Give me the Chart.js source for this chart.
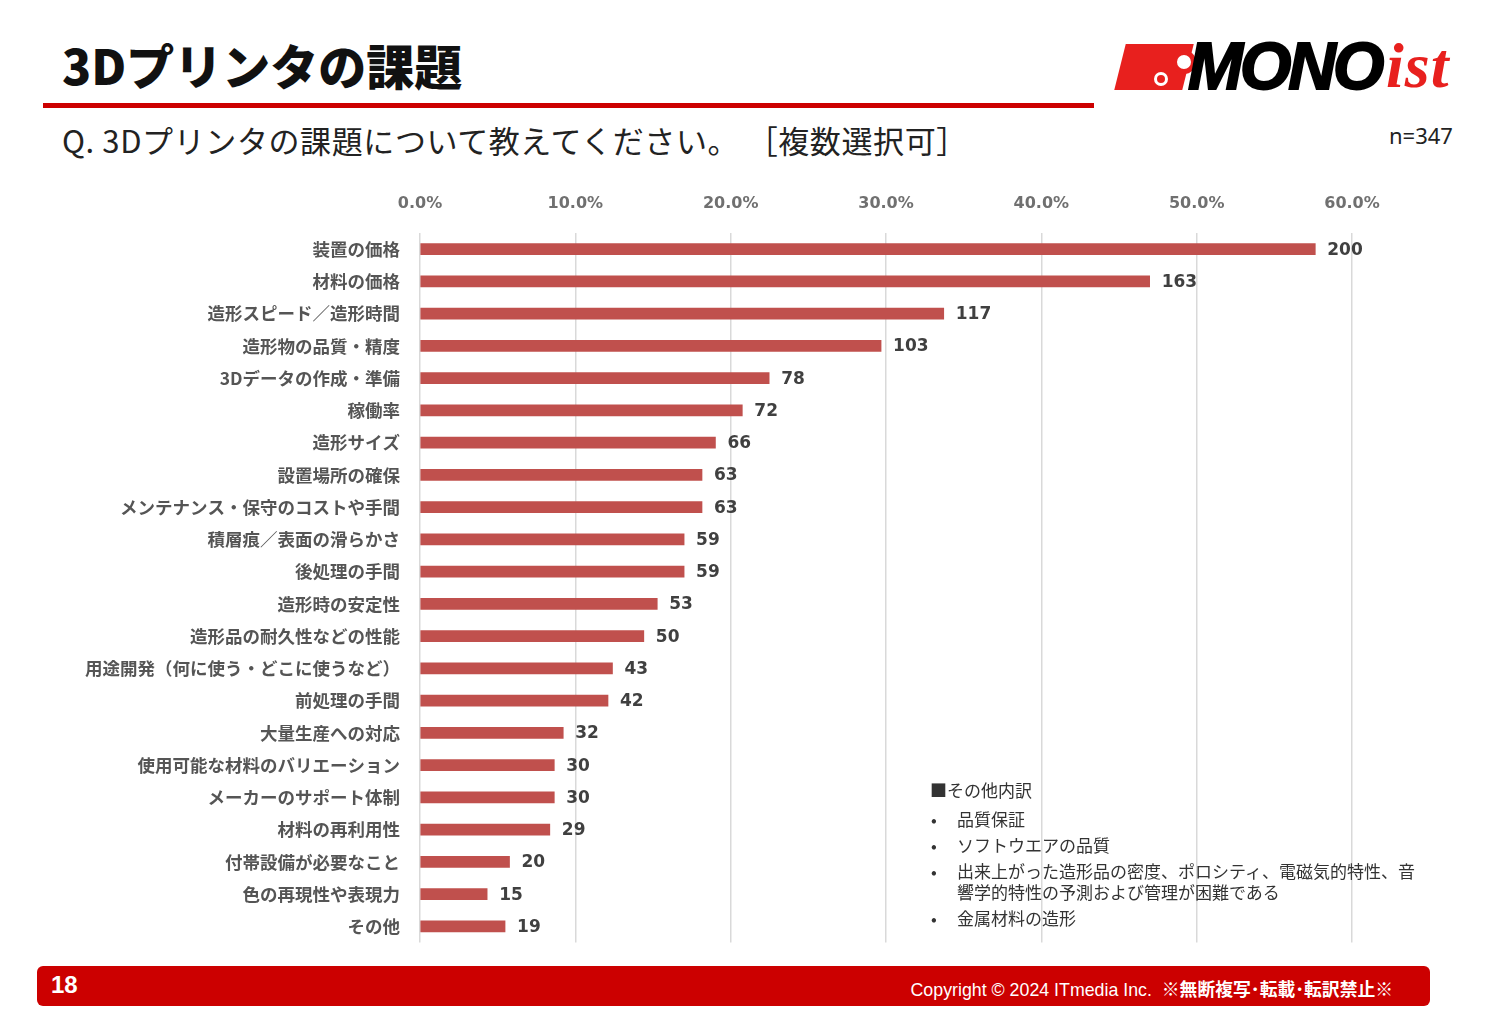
<!DOCTYPE html>
<html lang="ja">
<head>
<meta charset="utf-8">
<script src="https://cdn.jsdelivr.net/npm/chart.js@4/dist/chart.umd.min.js"></script>
<style>
  body { margin: 0; width: 1489px; height: 1020px; background: #fff; position: relative; overflow: hidden;
         font-family: "Noto Sans CJK JP", sans-serif; }
  .title { position: absolute; left: 62px; top: 29px; font-size: 48px; font-weight: 900; color: #111; }
  .rule { position: absolute; left: 43px; top: 103px; width: 1051px; height: 5px; background: #cc0000; }
  .question { position: absolute; left: 62px; top: 117px; font-size: 31px; color: #222; letter-spacing: 0.6px; }
  .n { position: absolute; left: 1389px; top: 120px; font-size: 22px; color: #222; font-family: "Noto Sans", sans-serif; }
  .logo { position: absolute; left: 1112px; top: 40px; width: 370px; height: 56px; }
  .logo .red { position: absolute; left: 8px; top: 4px; width: 68px; height: 46px; background: #e8201e; transform: skewX(-14deg); }
  .logo .gear1 { position: absolute; left: 60px; top: 10px; width: 14px; height: 14px; border: 5px solid #e8201e; border-radius: 50%; background: #fff; }
  .logo .gear2 { position: absolute; left: 42px; top: 32px; width: 8px; height: 8px; border: 3px solid #fff; border-radius: 50%; }
  .logo .mono { position: absolute; left: 76px; top: -12px; font-family: "Liberation Sans", sans-serif; font-weight: 900; font-style: italic; font-size: 66px; color: #000; letter-spacing: -3px; -webkit-text-stroke: 2px #000; }
  .logo .ist { position: absolute; left: 274px; top: -11px; font-family: "Liberation Serif", serif; font-style: italic; font-weight: bold; font-size: 64px; color: #e8201e; letter-spacing: 1px; }
  #wrap { position: absolute; left: 0; top: 180px; width: 1489px; height: 785px; }
  .other { position: absolute; left: 930px; top: 776px; font-size: 17px; color: #333; line-height: 27px; }
  .other ul { list-style: none; margin: 0; padding: 0; }
  .other li { position: relative; padding-left: 27px; width: 470px; line-height: 21px; margin-top: 5px; }
  .other li::before { content: "•"; position: absolute; left: 1px; top: 0; }
  .footer { position: absolute; left: 37px; top: 966px; width: 1393px; height: 40px; background: #cc0000; border-radius: 6px; color: #fff; }
  .footer .page { position: absolute; left: 14px; top: 5px; font-size: 24px; font-weight: bold; font-family: "Liberation Sans", sans-serif; }
  .footer .copy { position: absolute; right: 37px; top: 9px; font-size: 17.8px; font-family: "Liberation Sans", "Noto Sans CJK JP", sans-serif; }
  .footer .copy b { font-family: "Noto Sans CJK JP", sans-serif; }
</style>
</head>
<body>
<div class="title">3Dプリンタの課題</div>
<div class="rule"></div>
<div class="question">Q. 3Dプリンタの課題について教えてください。 ［複数選択可］</div>
<div class="n">n=347</div>
<div class="logo">
  <div class="red"></div><div class="gear1"></div><div class="gear2"></div>
  <div class="mono">MONO</div><div class="ist">ist</div>
</div>
<div id="wrap"><canvas id="chart"></canvas></div>
<div class="other">
  <div>■その他内訳</div>
  <ul>
    <li>品質保証</li>
    <li>ソフトウエアの品質</li>
    <li>出来上がった造形品の密度、ポロシティ、電磁気的特性、音<br>響学的特性の予測および管理が困難である</li>
    <li>金属材料の造形</li>
  </ul>
</div>
<div class="footer">
  <div class="page">18</div>
  <div class="copy">Copyright © 2024 ITmedia Inc.&nbsp; <b>※無断複写･転載･転訳禁止※</b></div>
</div>
<script>
var respondents = 347;
var categories = [
  "装置の価格", "材料の価格", "造形スピード／造形時間", "造形物の品質・精度",
  "3Dデータの作成・準備", "稼働率", "造形サイズ", "設置場所の確保",
  "メンテナンス・保守のコストや手間", "積層痕／表面の滑らかさ", "後処理の手間", "造形時の安定性",
  "造形品の耐久性などの性能", "用途開発（何に使う・どこに使うなど）", "前処理の手間", "大量生産への対応",
  "使用可能な材料のバリエーション", "メーカーのサポート体制", "材料の再利用性", "付帯設備が必要なこと",
  "色の再現性や表現力", "その他"
];
var counts = [200, 163, 117, 103, 78, 72, 66, 63, 63, 59, 59, 53, 50, 43, 42, 32, 30, 30, 29, 20, 15, 19];
var percents = counts.map(function (c) { return c / respondents * 100; });
var xTicks = [0, 10, 20, 30, 40, 50, 60];

var countLabels = {
  id: "countLabels",
  afterDatasetsDraw: function (chart) {
    var ctx = chart.ctx;
    var meta = chart.getDatasetMeta(0);
    ctx.save();
    ctx.font = "bold 17px 'DejaVu Sans', sans-serif";
    ctx.fillStyle = "#404040";
    ctx.textAlign = "left";
    ctx.textBaseline = "middle";
    meta.data.forEach(function (bar, i) {
      ctx.fillText(String(counts[i]), bar.x + 12, bar.y + 1);
    });
    ctx.restore();
  }
};

var ctx = document.getElementById("chart").getContext("2d");
var myChart = new Chart(ctx, {
  type: "bar",
  data: {
    labels: categories,
    datasets: [{
      data: percents,
      backgroundColor: "#c0504d",
      borderWidth: 0,
      barThickness: 11
    }]
  },
  options: {
    indexAxis: "y",
    responsive: true,
    maintainAspectRatio: false,
    animation: false,
    layout: { padding: { left: 0, right: 137, top: 0, bottom: 7 } },
    plugins: { legend: { display: false }, tooltip: { enabled: false } },
    scales: {
      x: {
        position: "top",
        min: 0,
        max: 60,
        afterBuildTicks: function (scale) {
          scale.ticks = xTicks.map(function (v) { return { value: v }; });
        },
        afterFit: function (scale) { scale.height = 53; },
        ticks: {
          padding: 20,
          color: "#707070",
          font: { family: "'DejaVu Sans', sans-serif", size: 16, weight: "bold" },
          callback: function (v) { return v.toFixed(1) + "%"; }
        },
        grid: { color: "#d9d9d9", lineWidth: 1.5, drawTicks: false },
        border: { display: false }
      },
      y: {
        afterFit: function (scale) { scale.width = 420; },
        ticks: {
          padding: 12,
          color: "#555555",
          font: { family: "'Noto Sans CJK JP', sans-serif", size: 17.5, weight: "bold" }
        },
        grid: { display: false },
        border: { display: false }
      }
    }
  },
  plugins: [countLabels]
});
</script>
</body>
</html>
